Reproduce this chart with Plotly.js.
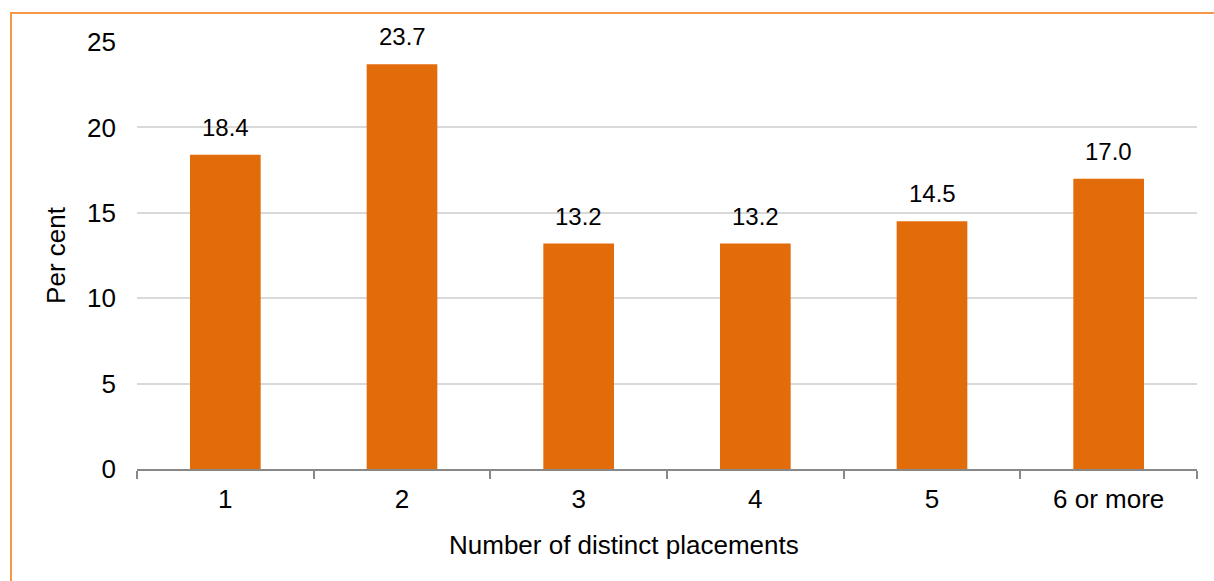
<!DOCTYPE html>
<html>
<head>
<meta charset="utf-8">
<script src="https://cdn.plot.ly/plotly-3.0.1.min.js"></script>
<style>
html,body{margin:0;padding:0;background:#fff;}
#wrap{position:relative;width:1214px;height:581px;overflow:hidden;}
#chart{width:1214px;height:581px;}
#frame{position:absolute;left:10px;top:12px;width:1300px;height:700px;border-left:2px solid #F79646;border-top:2px solid #F79646;pointer-events:none;}
</style>
</head>
<body>
<div id="wrap"><div id="chart"></div><div id="frame"></div></div>
<script>
var categories = ["1", "2", "3", "4", "5", "6 or more"];
var values = [18.4, 23.7, 13.2, 13.2, 14.5, 17.0];
var yTicks = [0, 5, 10, 15, 20, 25];
var xTitle = "Number of distinct placements";
var yTitle = "Per cent";

var font = "Liberation Sans, Arial, sans-serif";

var trace = {
  type: "bar",
  x: categories,
  y: values,
  marker: {color: "#E36C0A"},
  hoverinfo: "none"
};

var annotations = categories.map(function(c, i){
  return {
    x: i, y: values[i], xref: "x", yref: "y",
    text: values[i].toFixed(1), showarrow: false,
    yanchor: "bottom", yshift: 12,
    font: {family: font, size: 24, color: "#000"}
  };
});
annotations.push({
  xref: "paper", yref: "paper", x: (624-137)/(1197-137), y: 0,
  yanchor: "middle", yshift: -76, showarrow: false,
  text: xTitle, font: {family: font, size: 26, color: "#000"}
});

var layout = {
  width: 1214, height: 581,
  margin: {l: 137, r: 17, t: 42, b: 112},
  paper_bgcolor: "#fff", plot_bgcolor: "#fff",
  showlegend: false,
  bargap: 0.6,
  font: {family: font, size: 26, color: "#000"},
  xaxis: {
    type: "category",
    showline: true, linecolor: "#888888", linewidth: 2,
    ticks: "outside", tickson: "boundaries", ticklen: 8, tickwidth: 2, tickcolor: "#888888",
    showgrid: false, zeroline: false,
    ticklabelstandoff: 6,
    tickfont: {family: font, size: 26, color: "#000"}
  },
  yaxis: {
    range: [0, 25], tickvals: yTicks, ticktext: yTicks.map(String),
    showgrid: true, gridcolor: "#D9D9D9", gridwidth: 2,
    zeroline: false, showline: false, ticks: "",
    ticklabelstandoff: 20,
    tickfont: {family: font, size: 26, color: "#000"},
    title: {text: yTitle, font: {family: font, size: 26, color: "#000"}, standoff: 13}
  },
  annotations: annotations
};

Plotly.newPlot("chart", [trace], layout, {displayModeBar: false, staticPlot: true});
</script>
</body>
</html>
